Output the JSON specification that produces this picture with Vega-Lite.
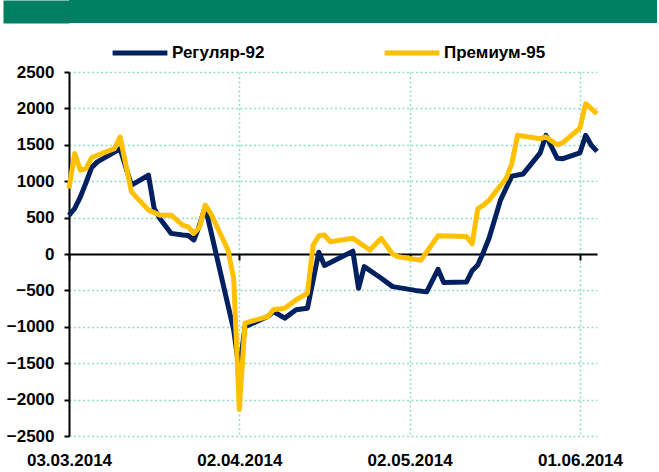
{
  "$schema": "https://vega.github.io/schema/vega-lite/v6.json",
  "padding": {"left": 3, "top": 0, "right": 0, "bottom": 0},
  "background": "white",
  "spacing": -5,
  "resolve": {"legend": {"color": "independent"}},
  "config": {
    "font": "Liberation Sans",
    "view": {"stroke": null}
  },
  "vconcat": [
    {
      "width": 588,
      "height": 23,
      "view": {"fill": "#007F62", "stroke": null},
      "data": {"values": [{"t": "", "v": 0}]},
      "mark": {"type": "text", "color": "white"},
      "encoding": {
        "text": {"field": "t"},
        "y": {"field": "v", "type": "quantitative", "scale": {"domain": [0, 1]},
          "axis": {"title": null, "labels": false, "ticks": false, "grid": false,
            "domain": true, "domainColor": "#007F62", "domainWidth": 66, "domainCap": "butt", "offset": 33,
            "minExtent": 0, "maxExtent": 0}}
      }
    },
    {
      "width": 528,
      "height": 364,
      "data": {"values": [
        {"date": "2014-03-03", "series": "Регуляр-92", "value": 530},
        {"date": "2014-03-04", "series": "Регуляр-92", "value": 625},
        {"date": "2014-03-05", "series": "Регуляр-92", "value": 785},
        {"date": "2014-03-06", "series": "Регуляр-92", "value": 980},
        {"date": "2014-03-07", "series": "Регуляр-92", "value": 1190},
        {"date": "2014-03-08", "series": "Регуляр-92", "value": 1265},
        {"date": "2014-03-11", "series": "Регуляр-92", "value": 1400},
        {"date": "2014-03-12", "series": "Регуляр-92", "value": 1447},
        {"date": "2014-03-14", "series": "Регуляр-92", "value": 945},
        {"date": "2014-03-17", "series": "Регуляр-92", "value": 1082},
        {"date": "2014-03-18", "series": "Регуляр-92", "value": 625},
        {"date": "2014-03-19", "series": "Регуляр-92", "value": 489},
        {"date": "2014-03-21", "series": "Регуляр-92", "value": 283},
        {"date": "2014-03-23", "series": "Регуляр-92", "value": 260},
        {"date": "2014-03-24", "series": "Регуляр-92", "value": 255},
        {"date": "2014-03-25", "series": "Регуляр-92", "value": 192},
        {"date": "2014-03-26", "series": "Регуляр-92", "value": 397},
        {"date": "2014-03-27", "series": "Регуляр-92", "value": 648},
        {"date": "2014-04-01", "series": "Регуляр-92", "value": -1040},
        {"date": "2014-04-02", "series": "Регуляр-92", "value": -1600},
        {"date": "2014-04-03", "series": "Регуляр-92", "value": -1000},
        {"date": "2014-04-07", "series": "Регуляр-92", "value": -859},
        {"date": "2014-04-08", "series": "Регуляр-92", "value": -790},
        {"date": "2014-04-10", "series": "Регуляр-92", "value": -881},
        {"date": "2014-04-12", "series": "Регуляр-92", "value": -767},
        {"date": "2014-04-14", "series": "Регуляр-92", "value": -744},
        {"date": "2014-04-16", "series": "Регуляр-92", "value": 25},
        {"date": "2014-04-17", "series": "Регуляр-92", "value": -158},
        {"date": "2014-04-22", "series": "Регуляр-92", "value": 38},
        {"date": "2014-04-23", "series": "Регуляр-92", "value": -471},
        {"date": "2014-04-24", "series": "Регуляр-92", "value": -174},
        {"date": "2014-04-27", "series": "Регуляр-92", "value": -333},
        {"date": "2014-04-29", "series": "Регуляр-92", "value": -448},
        {"date": "2014-05-03", "series": "Регуляр-92", "value": -500},
        {"date": "2014-05-05", "series": "Регуляр-92", "value": -520},
        {"date": "2014-05-07", "series": "Регуляр-92", "value": -210},
        {"date": "2014-05-08", "series": "Регуляр-92", "value": -390},
        {"date": "2014-05-12", "series": "Регуляр-92", "value": -385},
        {"date": "2014-05-13", "series": "Регуляр-92", "value": -230},
        {"date": "2014-05-14", "series": "Регуляр-92", "value": -150},
        {"date": "2014-05-15", "series": "Регуляр-92", "value": 25},
        {"date": "2014-05-16", "series": "Регуляр-92", "value": 220},
        {"date": "2014-05-18", "series": "Регуляр-92", "value": 740},
        {"date": "2014-05-20", "series": "Регуляр-92", "value": 1070},
        {"date": "2014-05-22", "series": "Регуляр-92", "value": 1100},
        {"date": "2014-05-25", "series": "Регуляр-92", "value": 1390},
        {"date": "2014-05-26", "series": "Регуляр-92", "value": 1630},
        {"date": "2014-05-28", "series": "Регуляр-92", "value": 1315},
        {"date": "2014-05-29", "series": "Регуляр-92", "value": 1310},
        {"date": "2014-06-01", "series": "Регуляр-92", "value": 1390},
        {"date": "2014-06-02", "series": "Регуляр-92", "value": 1630},
        {"date": "2014-06-03", "series": "Регуляр-92", "value": 1493},
        {"date": "2014-06-04", "series": "Регуляр-92", "value": 1410},
        {"date": "2014-03-03", "series": "Премиум-95", "value": 900},
        {"date": "2014-03-04", "series": "Премиум-95", "value": 1379},
        {"date": "2014-03-05", "series": "Премиум-95", "value": 1151},
        {"date": "2014-03-06", "series": "Премиум-95", "value": 1174},
        {"date": "2014-03-07", "series": "Премиум-95", "value": 1326},
        {"date": "2014-03-11", "series": "Премиум-95", "value": 1447},
        {"date": "2014-03-12", "series": "Премиум-95", "value": 1607},
        {"date": "2014-03-14", "series": "Премиум-95", "value": 853},
        {"date": "2014-03-17", "series": "Премиум-95", "value": 603},
        {"date": "2014-03-19", "series": "Премиум-95", "value": 534},
        {"date": "2014-03-21", "series": "Премиум-95", "value": 534},
        {"date": "2014-03-23", "series": "Премиум-95", "value": 397},
        {"date": "2014-03-24", "series": "Премиум-95", "value": 374},
        {"date": "2014-03-25", "series": "Премиум-95", "value": 283},
        {"date": "2014-03-26", "series": "Премиум-95", "value": 374},
        {"date": "2014-03-27", "series": "Премиум-95", "value": 671},
        {"date": "2014-03-28", "series": "Премиум-95", "value": 553},
        {"date": "2014-03-31", "series": "Премиум-95", "value": 55},
        {"date": "2014-04-01", "series": "Премиум-95", "value": -333},
        {"date": "2014-04-02", "series": "Премиум-95", "value": -2137},
        {"date": "2014-04-03", "series": "Премиум-95", "value": -949},
        {"date": "2014-04-07", "series": "Премиум-95", "value": -859},
        {"date": "2014-04-08", "series": "Премиум-95", "value": -767},
        {"date": "2014-04-10", "series": "Премиум-95", "value": -744},
        {"date": "2014-04-12", "series": "Премиум-95", "value": -630},
        {"date": "2014-04-14", "series": "Премиум-95", "value": -539},
        {"date": "2014-04-15", "series": "Премиум-95", "value": 120},
        {"date": "2014-04-16", "series": "Премиум-95", "value": 250},
        {"date": "2014-04-17", "series": "Премиум-95", "value": 260},
        {"date": "2014-04-18", "series": "Премиум-95", "value": 169},
        {"date": "2014-04-22", "series": "Премиум-95", "value": 215},
        {"date": "2014-04-25", "series": "Премиум-95", "value": 55},
        {"date": "2014-04-27", "series": "Премиум-95", "value": 215},
        {"date": "2014-04-29", "series": "Премиум-95", "value": 0},
        {"date": "2014-04-30", "series": "Премиум-95", "value": -37},
        {"date": "2014-05-04", "series": "Премиум-95", "value": -85},
        {"date": "2014-05-07", "series": "Премиум-95", "value": 250},
        {"date": "2014-05-12", "series": "Премиум-95", "value": 240},
        {"date": "2014-05-13", "series": "Премиум-95", "value": 140},
        {"date": "2014-05-14", "series": "Премиум-95", "value": 620},
        {"date": "2014-05-15", "series": "Премиум-95", "value": 670},
        {"date": "2014-05-16", "series": "Премиум-95", "value": 740},
        {"date": "2014-05-19", "series": "Премиум-95", "value": 1040},
        {"date": "2014-05-20", "series": "Премиум-95", "value": 1242},
        {"date": "2014-05-21", "series": "Премиум-95", "value": 1630},
        {"date": "2014-05-25", "series": "Премиум-95", "value": 1584},
        {"date": "2014-05-26", "series": "Премиум-95", "value": 1607},
        {"date": "2014-05-28", "series": "Премиум-95", "value": 1500},
        {"date": "2014-05-29", "series": "Премиум-95", "value": 1530},
        {"date": "2014-06-01", "series": "Премиум-95", "value": 1730},
        {"date": "2014-06-02", "series": "Премиум-95", "value": 2065},
        {"date": "2014-06-04", "series": "Премиум-95", "value": 1927}
      ]},
      "encoding": {
        "x": {
          "field": "date", "type": "temporal",
          "scale": {"type": "utc", "domain": [{"year": 2014, "month": 3, "date": 3, "utc": true}, {"year": 2014, "month": 6, "date": 4, "utc": true}]},
          "axis": {
            "title": null,
            "values": [
              {"year": 2014, "month": 3, "date": 3, "utc": true},
              {"year": 2014, "month": 4, "date": 2, "utc": true},
              {"year": 2014, "month": 5, "date": 2, "utc": true},
              {"year": 2014, "month": 6, "date": 1, "utc": true}
            ],
            "format": "%d.%m.%Y",
            "offset": -182,
            "domainColor": "black", "domainWidth": 2,
            "tickColor": "black", "tickWidth": 2, "tickSize": 6,
            "labelPadding": 192,
            "labelFont": "Liberation Sans", "labelFontSize": 17, "labelFontWeight": "bold", "labelColor": "black",
            "labelFlush": false, "labelOverlap": false,
            "grid": true, "gridColor": "#90DEC9", "gridDash": [2, 2.5], "gridWidth": 1.5
          }
        },
        "y": {
          "field": "value", "type": "quantitative",
          "scale": {"domain": [-2500, 2500], "nice": false},
          "axis": {
            "title": null,
            "format": "d",
            "values": [-2500, -2000, -1500, -1000, -500, 0, 500, 1000, 1500, 2000, 2500],
            "domainColor": "black", "domainWidth": 2,
            "tickColor": "black", "tickWidth": 2, "tickSize": 5,
            "labelPadding": 10, "minExtent": 66, "maxExtent": 66,
            "labelFont": "Liberation Sans", "labelFontSize": 17, "labelFontWeight": "bold", "labelColor": "black",
            "labelFlush": false, "labelOverlap": false,
            "grid": true, "gridColor": "#90DEC9", "gridDash": [2, 2.5], "gridWidth": 1.5
          }
        },
        "color": {
          "field": "series", "type": "nominal",
          "scale": {"domain": ["Регуляр-92", "Премиум-95"], "range": ["#002060", "#FFC000"]},
          "legend": {
            "title": null, "orient": "none", "legendX": 41, "legendY": -49,
            "direction": "horizontal", "symbolType": "stroke", "symbolSize": 3000,
            "symbolStrokeWidth": 5, "labelOffset": 2, "columnPadding": 109,
            "labelFont": "Liberation Sans", "labelFontSize": 17, "labelFontWeight": "bold", "labelColor": "black",
            "labelLimit": 300
          }
        }
      },
      "layer": [
        {
          "transform": [{"filter": "datum.series == 'Регуляр-92'"}],
          "mark": {"type": "line", "strokeWidth": 5, "strokeJoin": "round"}
        },
        {
          "transform": [{"filter": "datum.series == 'Премиум-95'"}],
          "mark": {"type": "line", "strokeWidth": 5, "strokeJoin": "round"}
        }
      ]
    }
  ]
}
